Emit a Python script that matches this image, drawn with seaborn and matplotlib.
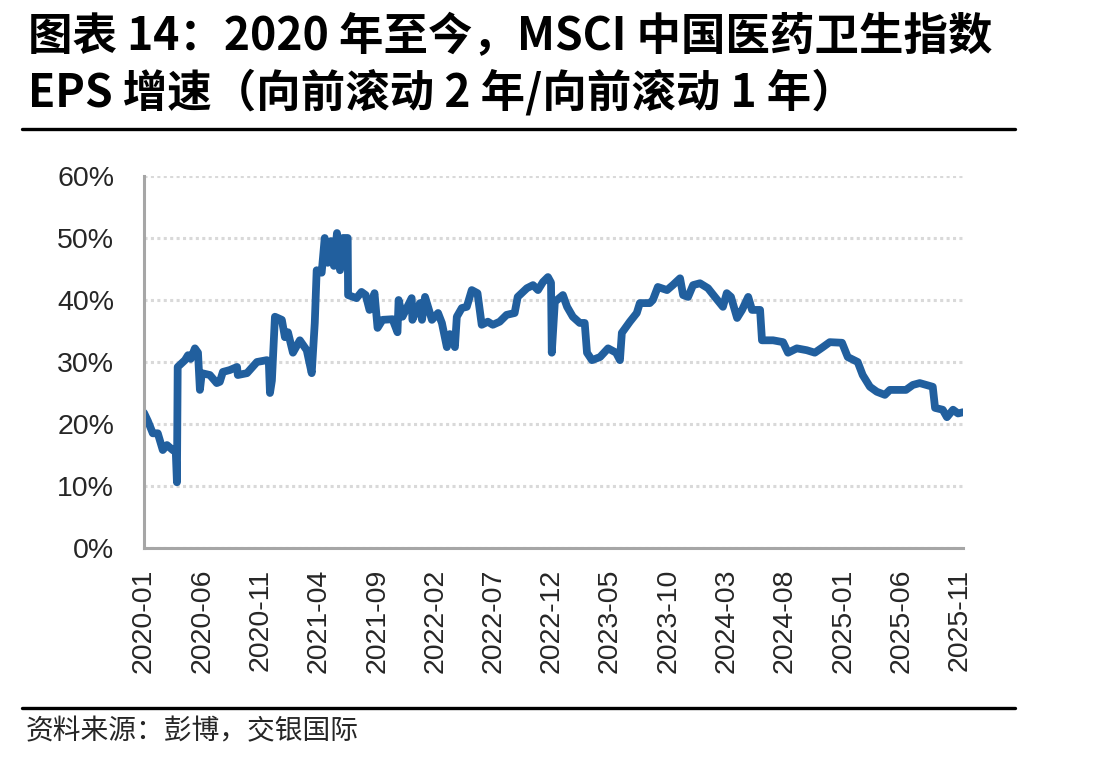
import pandas as pd
import seaborn as sns
import matplotlib.pyplot as plt
import matplotlib.dates as mdates
from matplotlib.ticker import FuncFormatter
from matplotlib.lines import Line2D

# EPS growth (fwd 2y / fwd 1y)
dates = [
    '2020-01-01', '2020-01-11', '2020-01-24', '2020-02-06', '2020-02-19', '2020-03-01',
    '2020-03-16', '2020-03-24', '2020-03-27', '2020-03-29', '2020-04-17', '2020-04-25',
    '2020-05-02', '2020-05-13', '2020-05-21', '2020-05-26', '2020-05-31', '2020-06-21',
    '2020-07-09', '2020-07-17', '2020-07-25', '2020-08-12', '2020-08-31', '2020-09-02',
    '2020-09-26', '2020-10-22', '2020-11-17', '2020-11-22', '2020-11-25', '2020-11-30',
    '2020-12-08', '2020-12-26', '2021-01-03', '2021-01-11', '2021-01-24', '2021-02-11',
    '2021-03-01', '2021-03-14', '2021-03-22', '2021-03-27', '2021-04-09', '2021-04-17',
    '2021-04-25', '2021-05-03', '2021-05-11', '2021-05-19', '2021-05-27', '2021-06-03',
    '2021-06-16', '2021-06-17', '2021-07-09', '2021-07-22', '2021-08-02', '2021-08-12',
    '2021-08-25', '2021-09-02', '2021-09-15', '2021-10-11', '2021-10-24', '2021-10-27',
    '2021-11-06', '2021-11-30', '2021-12-02', '2021-12-13', '2021-12-22', '2021-12-27',
    '2022-01-04', '2022-01-22', '2022-02-07', '2022-02-17', '2022-03-02', '2022-03-10',
    '2022-03-23', '2022-03-28', '2022-04-10', '2022-04-23', '2022-05-06', '2022-05-21',
    '2022-06-01', '2022-06-17', '2022-06-30', '2022-07-18', '2022-08-05', '2022-08-26',
    '2022-09-03', '2022-09-27', '2022-10-13', '2022-10-26', '2022-11-08', '2022-11-21',
    '2022-11-29', '2022-12-01', '2022-12-09', '2022-12-30', '2023-01-10', '2023-01-25',
    '2023-02-12', '2023-02-25', '2023-03-03', '2023-03-16', '2023-04-06', '2023-04-27',
    '2023-05-18', '2023-05-28', '2023-06-02', '2023-06-23', '2023-07-11', '2023-07-19',
    '2023-08-14', '2023-08-22', '2023-09-04', '2023-09-28', '2023-10-13', '2023-11-01',
    '2023-11-09', '2023-11-22', '2023-12-05', '2023-12-23', '2024-01-13', '2024-01-31',
    '2024-02-21', '2024-03-02', '2024-03-13', '2024-03-29', '2024-04-11', '2024-04-27',
    '2024-05-07', '2024-05-28', '2024-06-02', '2024-07-01', '2024-07-27', '2024-08-09',
    '2024-09-01', '2024-09-27', '2024-10-18', '2024-11-08', '2024-11-26', '2024-12-28',
    '2025-01-12', '2025-02-07', '2025-02-20', '2025-03-11', '2025-03-29', '2025-04-19',
    '2025-05-02', '2025-05-23', '2025-06-13', '2025-07-01', '2025-07-19', '2025-08-22',
    '2025-08-28', '2025-09-17', '2025-09-28', '2025-10-14', '2025-10-27', '2025-11-09',
]
growth = [
    21.8, 20.5, 18.5, 18.5, 15.8, 16.6,
    15.8, 15.5, 10.6, 29.2, 30.3, 31.1,
    30.5, 32.2, 31.5, 25.5, 28.2, 27.9,
    26.6, 26.8, 28.4, 28.7, 29.2, 27.9,
    28.2, 30.0, 30.3, 30.0, 25.0, 27.0,
    37.3, 36.8, 34.0, 34.8, 31.5, 33.5,
    31.9, 28.2, 36.3, 44.8, 44.4, 50.0,
    46.0, 49.5, 45.5, 50.8, 44.8, 50.0,
    50.0, 40.8, 40.3, 41.3, 40.8, 38.4,
    41.1, 35.5, 36.8, 36.9, 34.8, 40.0,
    37.3, 40.3, 36.8, 38.5, 39.5, 36.8,
    40.5, 36.8, 37.9, 36.3, 32.4, 34.5,
    32.4, 37.3, 38.7, 38.9, 41.6, 41.1,
    36.0, 36.5, 36.0, 36.5, 37.6, 37.9,
    40.5, 41.9, 42.4, 41.6, 42.9, 43.7,
    42.8, 31.5, 39.7, 40.8, 38.9, 37.3,
    36.3, 36.3, 31.5, 30.3, 30.8, 32.2,
    31.5, 30.3, 34.7, 36.5, 37.9, 39.5,
    39.5, 40.0, 42.1, 41.6, 42.4, 43.5,
    40.8, 40.5, 42.4, 42.7, 41.9, 40.5,
    38.9, 41.1, 40.5, 37.1, 38.4, 40.5,
    38.4, 38.4, 33.5, 33.5, 33.2, 31.5,
    32.2, 31.9, 31.5, 32.4, 33.2, 33.1,
    30.8, 30.0, 27.9, 26.0, 25.2, 24.7,
    25.5, 25.5, 25.5, 26.3, 26.6, 26.0,
    22.6, 22.3, 21.1, 22.3, 21.7, 21.9,
]
tick_dates = pd.date_range('2020-01-01', '2025-11-01', freq='5MS')

title_1 = '图表 14：2020 年至今，MSCI 中国医药卫生指数'
title_2 = 'EPS 增速（向前滚动 2 年/向前滚动 1 年）'
source = '资料来源：彭博，交银国际'

df = pd.DataFrame({'date': pd.to_datetime(dates), 'growth': [g / 100 for g in growth]})

sns.set_style('white')
plt.rcParams['font.family'] = ['Liberation Sans', 'Noto Sans CJK SC', 'DejaVu Sans']
cjk = ['Noto Sans CJK SC', 'DejaVu Sans']
grey = '#a6a6a6'

fig = plt.figure(figsize=(10.97, 7.60), dpi=100)
ax = fig.add_axes([144 / 1097, 1 - 548 / 760, (963 - 144) / 1097, (548 - 176) / 760])

sns.lineplot(data=df, x='date', y='growth', ax=ax, color='#215f9e', linewidth=5.6,
             solid_joinstyle='round', solid_capstyle='round')

ax.set_ylim(0, 0.6)
ax.set_yticks([0, 0.1, 0.2, 0.3, 0.4, 0.5, 0.6])
ax.yaxis.set_major_formatter(FuncFormatter(lambda v, p: f'{v:.0%}'))
ax.set_xlim(pd.Timestamp('2020-01-01'), pd.Timestamp('2025-11-09'))
ax.set_xticks(tick_dates)
ax.xaxis.set_major_formatter(mdates.DateFormatter('%Y-%m'))
ax.set_xlabel('')
ax.set_ylabel('')

ax.grid(axis='y', color='#d9d9d9', linestyle=(0, (1, 1.1)), linewidth=2.2)
ax.set_axisbelow(True)
for side in ['top', 'right']:
    ax.spines[side].set_visible(False)
for side in ['left', 'bottom']:
    ax.spines[side].set_color(grey)
    ax.spines[side].set_linewidth(2.2)
ax.tick_params(axis='x', direction='out', length=7, width=2.2, color=grey,
               labelsize=20.5, pad=8, labelrotation=90)
ax.tick_params(axis='y', direction='out', length=7.5, width=2.2, color=grey,
               labelsize=20.5, pad=14)

fig.text(28 / 1097, 1 - 37 / 760, title_1, family=cjk, fontsize=32, fontweight='bold',
         va='center', ha='left', color='black')
fig.text(28 / 1097, 1 - 93 / 760, title_2, family=cjk, fontsize=32, fontweight='bold',
         va='center', ha='left', color='black')
fig.add_artist(Line2D([22 / 1097, 1015 / 1097], [1 - 129 / 760] * 2, color='black',
                      linewidth=2.4, transform=fig.transFigure))
fig.add_artist(Line2D([22 / 1097, 1015 / 1097], [1 - 708 / 760] * 2, color='black',
                      linewidth=2.4, transform=fig.transFigure))
fig.text(26 / 1097, 1 - 731 / 760, source, family=cjk, fontsize=20, va='center', ha='left')

plt.savefig('out.png', dpi=100)
